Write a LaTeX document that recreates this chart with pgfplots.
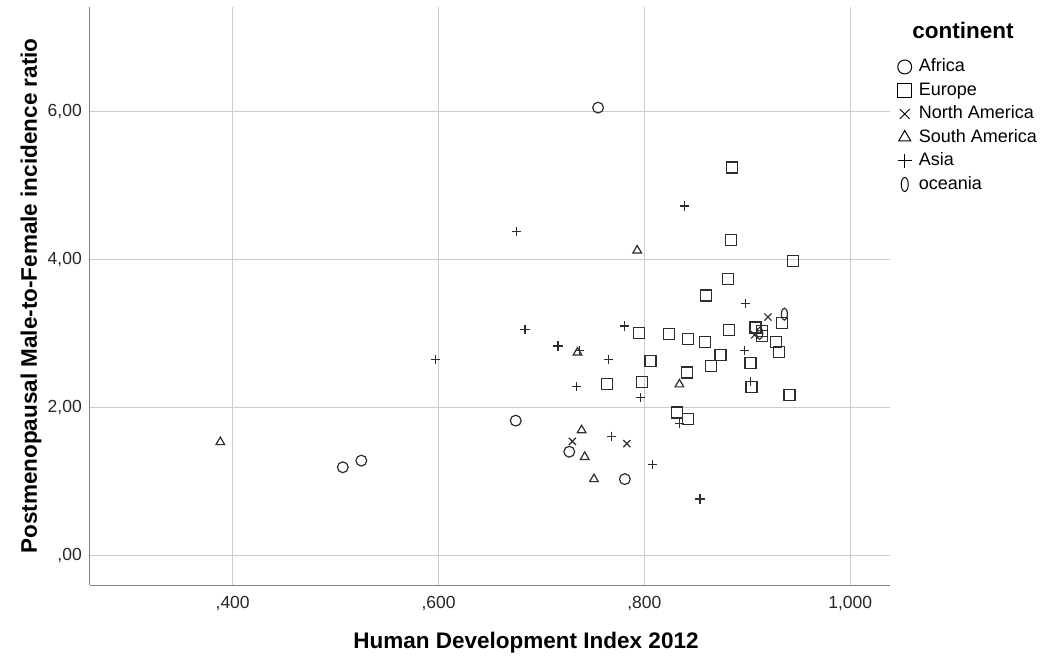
\documentclass[border=0pt]{standalone}
\usepackage{fontspec}
\setmainfont{Liberation Sans}
\usepackage{pgfplots}
\pgfplotsset{compat=1.18}
\pgfdeclareplotmark{oval}{%
  \pgfpathellipse{\pgfpointorigin}{\pgfqpoint{0.5\pgfplotmarksize}{0pt}}{\pgfqpoint{0pt}{\pgfplotmarksize}}%
  \pgfusepathqstroke}
\definecolor{gridc}{RGB}{204,204,204}
\definecolor{axc}{RGB}{130,130,130}
\definecolor{mk}{RGB}{45,45,45}
\begin{document}
\begin{tikzpicture}
\useasboundingbox (-90pt,-74pt) rectangle (953pt,585pt);
\begin{axis}[
  width=800pt, height=578pt, scale only axis,
  xmin=0.2614, xmax=1.0386, ymin=-0.401, ymax=7.41,
  axis x line*=bottom, axis y line*=left,
  axis line style={draw=axc, line width=1pt, -},
  grid=major, major grid style={draw=gridc, line width=1pt},
  major tick length=0pt,
  xtick={0.4,0.6,0.8,1.0}, xticklabels={{,400},{,600},{,800},{1,000}},
  ytick={0,2,4,6}, yticklabels={{,00},{2,00},{4,00},{6,00}},
  tick label style={font=\fontsize{17.5}{20}\selectfont, text=black!85},
  xticklabel style={anchor=north, inner sep=0pt, yshift=-11pt},
  yticklabel style={anchor=east, inner sep=0pt, xshift=-8pt},
  xlabel={Human Development Index 2012},
  ylabel={Postmenopausal Male-to-Female incidence ratio},
  label style={font=\bfseries\fontsize{22.5}{26}\selectfont},
  xlabel style={at={(rel axis cs:0.545,-0.1003)}, anchor=center},
  ylabel style={at={(rel axis cs:-0.07375,0.5)}, anchor=center},
  legend style={at={(rel axis cs:1.0094,0.9118)}, anchor=north west, draw=none, fill=none,
    inner sep=0pt, outer sep=0pt, font=\fontsize{18}{21}\selectfont, row sep=5.5pt,
    nodes={inner sep=0pt, text height=14pt, text depth=4pt}},
  legend cell align=left,
  legend image code/.code={\draw[#1, mark size=7pt, mark options={line width=1pt}] plot coordinates {(0pt,0pt)}; \path (-7pt,0pt) (14pt,0pt);},
  every axis plot/.append style={only marks, mark options={draw=mk, line width=1.2pt, fill=none}},
]
\addplot[mark=o, mark size=5.4pt] table {
0.755 6.05
0.675 1.82
0.507 1.19
0.525 1.28
0.727 1.40
0.781 1.03
};
\addlegendentry{Africa}
\addplot[mark=square, mark size=5.5pt] table {
0.885 5.24
0.884 4.26
0.944 3.98
0.881 3.73
0.860 3.51
0.934 3.14
0.908 3.08
0.882 3.04
0.914 3.03
0.914 2.96
0.795 3.00
0.824 2.99
0.842 2.92
0.859 2.88
0.928 2.88
0.931 2.75
0.874 2.71
0.865 2.56
0.903 2.60
0.806 2.63
0.841 2.47
0.764 2.32
0.798 2.34
0.904 2.27
0.941 2.17
0.832 1.93
0.842 1.84
};
\addlegendentry{Europe}
\addplot[mark=x, mark size=5pt] table {
0.730 1.54
0.783 1.51
0.920 3.22
0.907 2.98
};
\addlegendentry{North America}
\addplot[mark=triangle, mark size=5pt] table {
0.388 1.53
0.793 4.12
0.735 2.74
0.739 1.69
0.742 1.33
0.751 1.03
0.834 2.31
};
\addlegendentry{South America}
\addplot[mark=+, mark size=4.6pt] table {
0.597 2.65
0.676 4.38
0.684 3.05
0.716 2.83
0.737 2.77
0.734 2.28
0.765 2.65
0.781 3.10
0.796 2.13
0.768 1.61
0.808 1.23
0.839 4.72
0.898 3.40
0.897 2.77
0.903 2.35
0.834 1.78
0.854 0.76
};
\addlegendentry{Asia}
\addplot[mark=oval, mark size=6pt] table {
0.936 3.26
0.912 3.00
};
\addlegendentry{oceania}
\end{axis}
\node[font=\bfseries\fontsize{22.5}{26}\selectfont, anchor=center] at (873pt,555pt) {continent};
\end{tikzpicture}
\end{document}
